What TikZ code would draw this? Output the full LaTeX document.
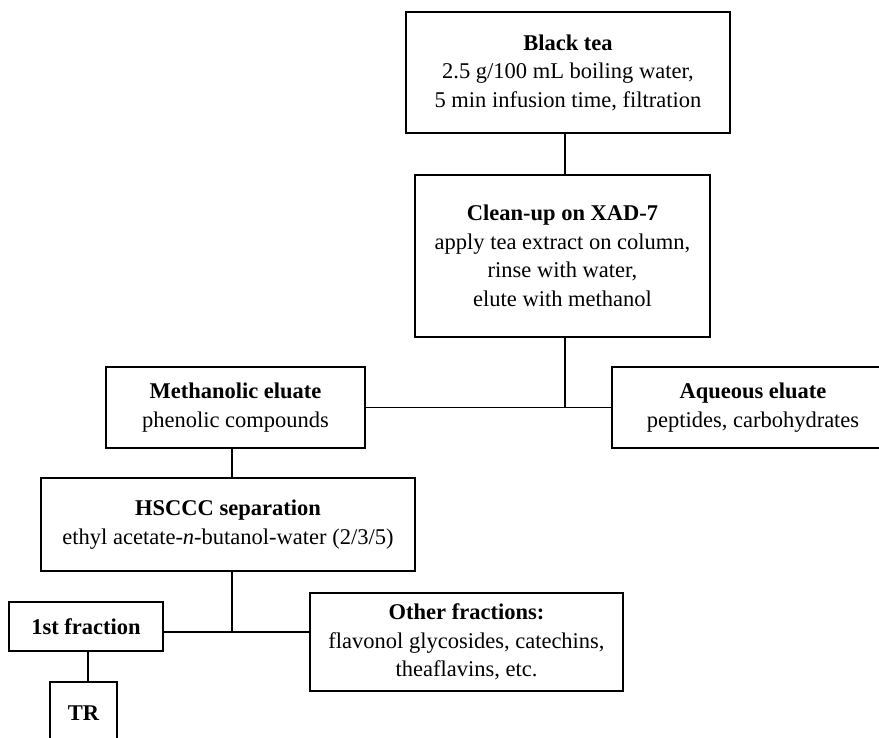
\documentclass[tikz,border=0pt]{standalone}
\usepackage{fontspec}
\setmainfont{Liberation Serif}
\begin{document}
\begin{tikzpicture}[x=1pt,y=-1pt,
  boxnode/.style={draw=black, line width=1.3pt, align=center, inner sep=0pt,
    font=\fontsize{22.5}{28.5}\selectfont},
  conn/.style={draw=black, line width=1.3pt}]
\useasboundingbox (0,0) rectangle (879,738);
\clip (0,0) rectangle (879,738);
\fill[white] (0,0) rectangle (879,738);

\node[boxnode, minimum width=324pt, minimum height=121pt] (tea) at (568,72.5)
  {\textbf{Black tea}\\2.5 g/100 mL boiling water,\\5 min infusion time, filtration};
\node[boxnode, minimum width=295pt, minimum height=162pt] (clean) at (562.5,256)
  {\textbf{Clean-up on XAD-7}\\apply tea extract on column,\\rinse with water,\\elute with methanol};
\node[boxnode, minimum width=259pt, minimum height=81pt] (meth) at (235.5,407.5)
  {\textbf{Methanolic eluate}\\phenolic compounds};
\node[boxnode, minimum width=282pt, minimum height=81pt] (aq) at (753,407.5)
  {\textbf{Aqueous eluate}\\peptides, carbohydrates};
\node[boxnode, minimum width=374pt, minimum height=93pt] (hsccc) at (228,524.5)
  {\textbf{HSCCC separation}\\ethyl acetate-\textit{n}-butanol-water (2/3/5)};
\node[boxnode, minimum width=154pt, minimum height=49pt] (first) at (86,626.5)
  {\textbf{1st fraction}};
\node[boxnode, minimum width=313pt, minimum height=98pt] (other) at (466.5,642)
  {\textbf{Other fractions:}\\flavonol glycosides, catechins,\\theaflavins, etc.};
\node[boxnode, minimum width=67pt, minimum height=63pt] (tr) at (83.5,713.5)
  {\textbf{TR}};

\coordinate (j1) at (565,407.5);
\coordinate (j2) at (232,632);
\coordinate (j3) at (88,651);

\draw[conn] (tea.south -| j1) -- (clean.north -| j1);
\draw[conn] (clean.south -| j1) -- (j1);
\draw[conn] (meth.east) -- (aq.west);
\draw[conn] (meth.south -| j2) -- (hsccc.north -| j2);
\draw[conn] (hsccc.south -| j2) -- (j2);
\draw[conn] (first.east |- j2) -- (other.west |- j2);
\draw[conn] (first.south -| j3) -- (tr.north -| j3);
\end{tikzpicture}
\end{document}
